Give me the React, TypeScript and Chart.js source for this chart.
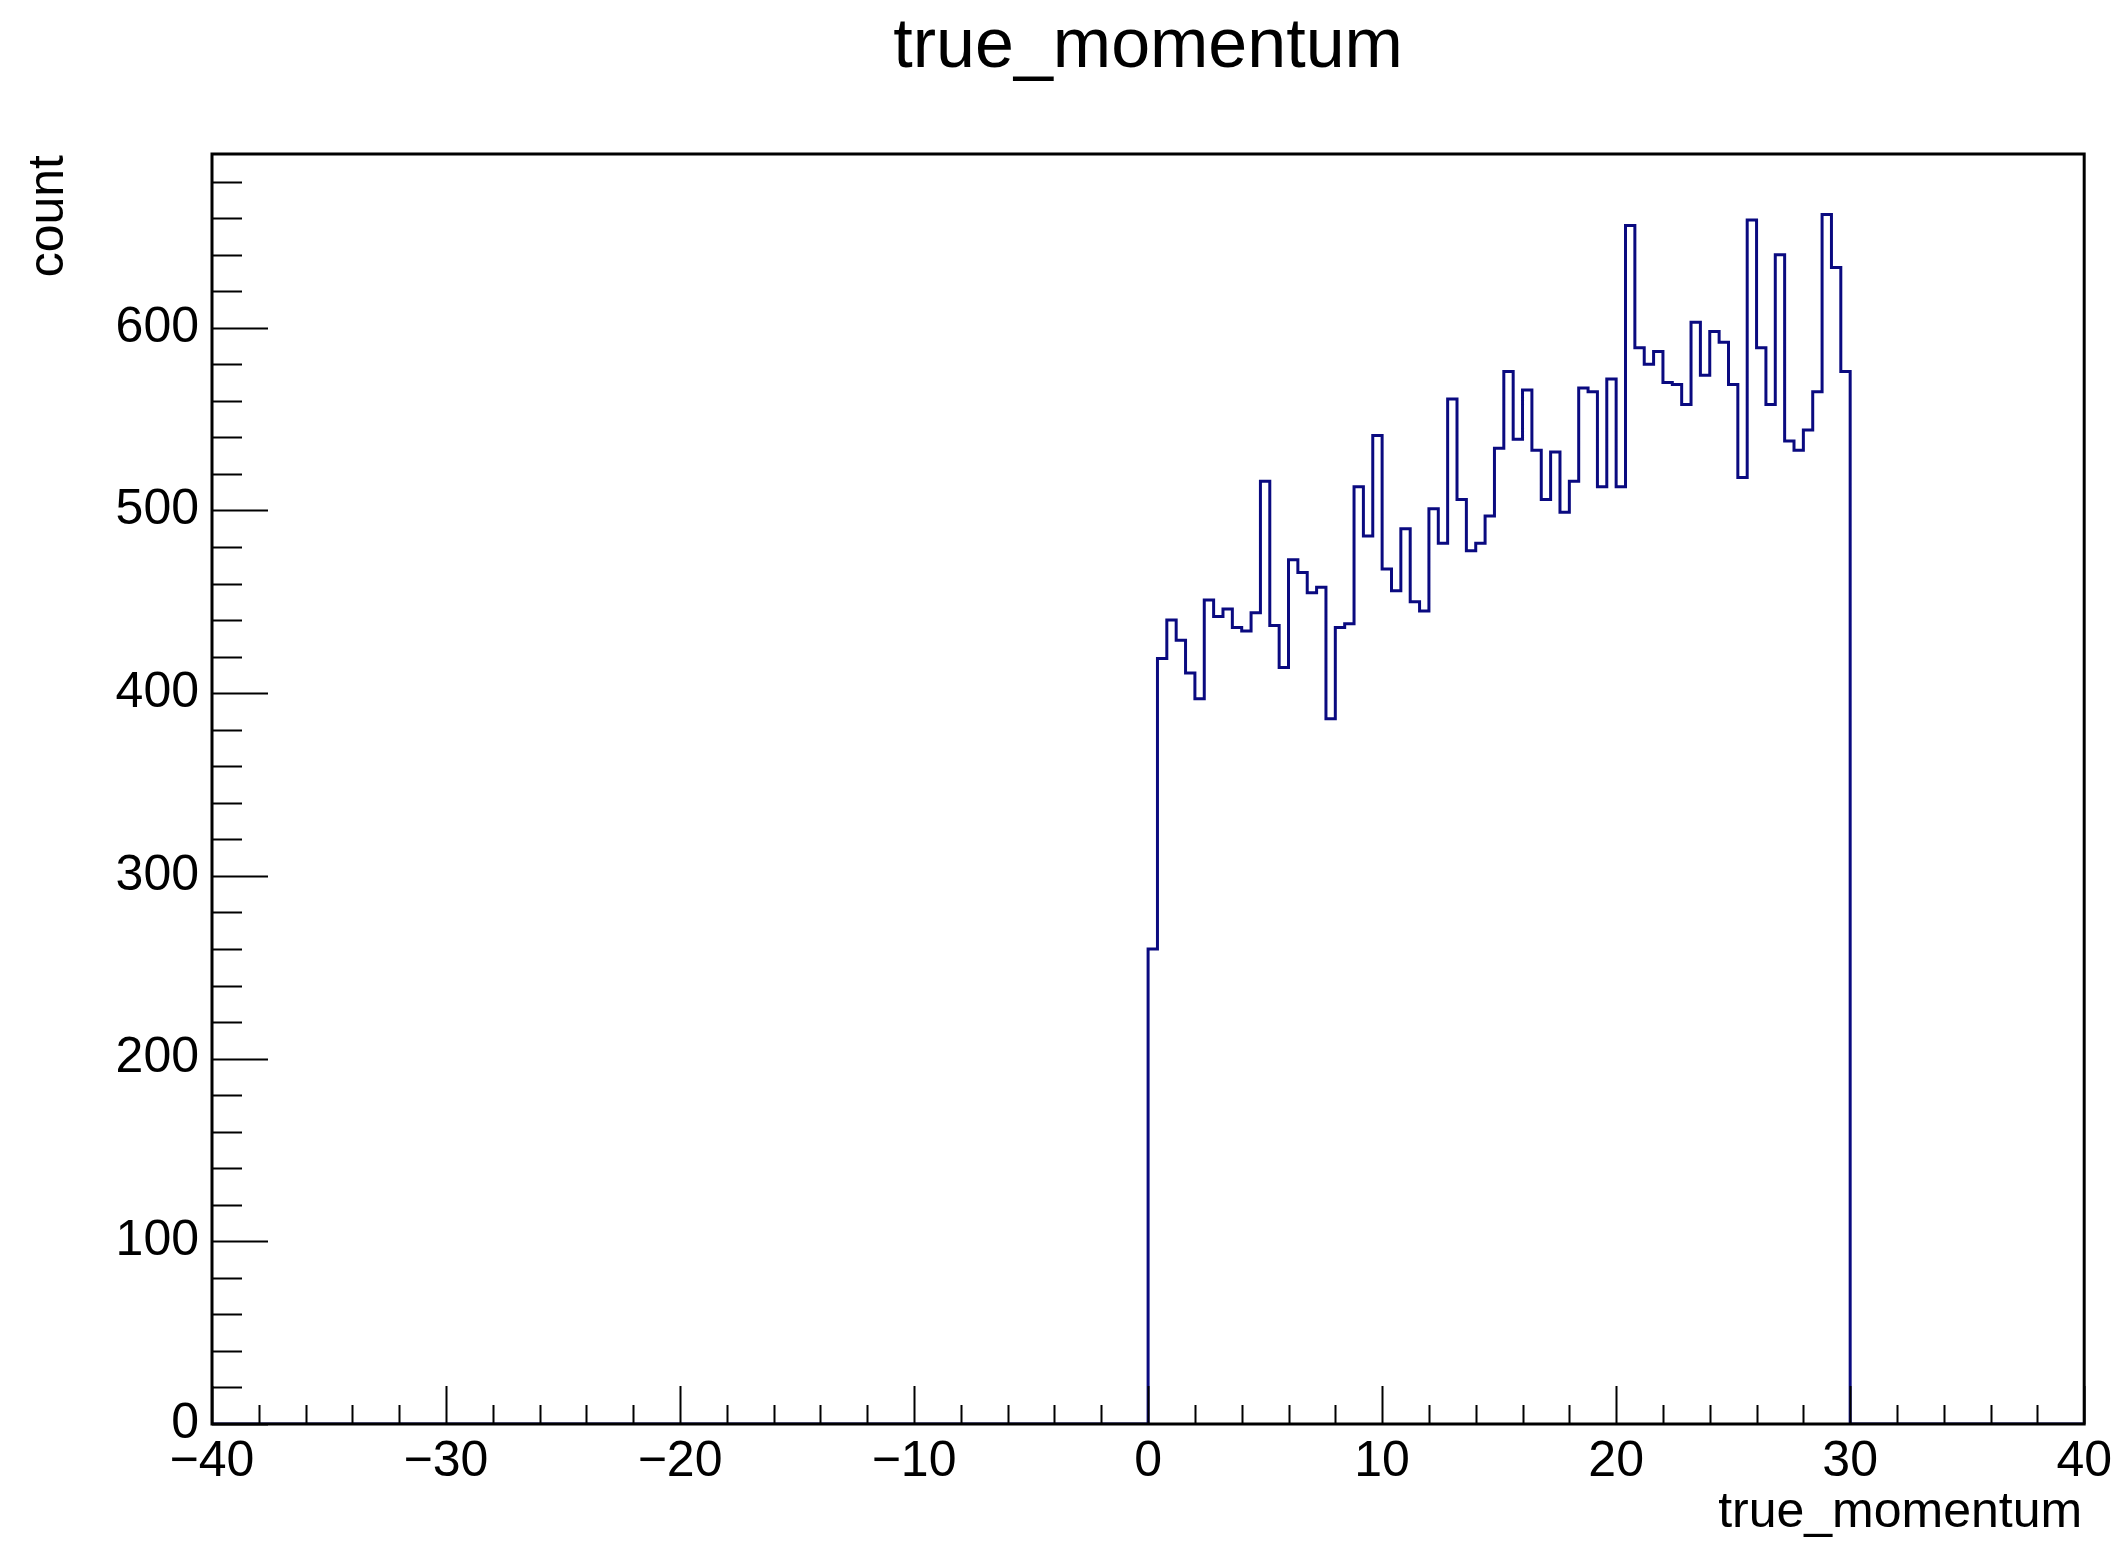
import React, { useEffect, useRef } from "react";
import { Chart, registerables } from "chart.js";

Chart.register(...registerables);

// ---- data ----
const chartTitle = "true_momentum";
const xAxisTitle = "true_momentum";
const yAxisTitle = "count";

const xMin = -40;
const xMax = 40;
const binWidth = 0.4;
const firstBinLow = 0; // first non-empty bin starts at 0
// counts of the non-empty bins, from x = 0 to x = 30 (bin width 0.4)
const counts = [
  260, 419, 440, 429, 411, 397, 451, 442, 446, 436,
  434, 444, 516, 437, 414, 473, 466, 455, 458, 386,
  436, 438, 513, 486, 541, 468, 456, 490, 450, 445,
  501, 482, 561, 506, 478, 482, 497, 534, 576, 539,
  566, 533, 506, 532, 499, 516, 567, 565, 513, 572,
  513, 656, 589, 580, 587, 570, 569, 558, 603, 574,
  598, 592, 569, 518, 659, 589, 558, 640, 538, 533,
  544, 565, 662, 633, 576,
];
const yMax = 695.1;
const xTickLabels = [-40, -30, -20, -10, 0, 10, 20, 30, 40];
const yTickLabels = [0, 100, 200, 300, 400, 500, 600];
const xMajorStep = 10;
const xMinorStep = 2;
const yMajorStep = 100;
const yMinorStep = 20;

const FONT = "'Liberation Sans', Arial, Helvetica, sans-serif";
const LINE_COLOR = "#0a0a80";

const framePlugin = {
  id: "rootFrame",
  afterDraw(chart: any) {
    const { ctx, chartArea, scales } = chart;
    const { left, right, top, bottom } = chartArea;
    const xs = scales.x;
    const ys = scales.y;
    ctx.save();
    // ticks
    ctx.strokeStyle = "#000";
    ctx.lineWidth = 2;
    ctx.beginPath();
    for (let v = 0; v <= yMax + 1e-9; v += yMinorStep) {
      const py = Math.round(ys.getPixelForValue(v)) + 0.5;
      const len = Math.abs(v % yMajorStep) < 1e-6 ? 56 : 30;
      ctx.moveTo(left, py);
      ctx.lineTo(left + len, py);
    }
    for (let v = xMin; v <= xMax + 1e-9; v += xMinorStep) {
      const px = Math.round(xs.getPixelForValue(v)) + 0.5;
      const len = Math.abs(v % xMajorStep) < 1e-6 ? 38 : 19;
      ctx.moveTo(px, bottom);
      ctx.lineTo(px, bottom - len);
    }
    ctx.stroke();
    // frame
    ctx.lineWidth = 3;
    ctx.strokeRect(left, top, right - left, bottom - top);

    // texts
    ctx.fillStyle = "#000";
    ctx.font = `70px ${FONT}`;
    ctx.textAlign = "center";
    ctx.textBaseline = "alphabetic";
    ctx.fillText(chartTitle, (left + right) / 2, 67);

    ctx.font = `50px ${FONT}`;
    ctx.textAlign = "right";
    ctx.fillText(xAxisTitle, right - 2, 1527);

    ctx.save();
    ctx.translate(63, top + 1);
    ctx.rotate(-Math.PI / 2);
    ctx.textAlign = "right";
    ctx.textBaseline = "alphabetic";
    ctx.fillText(yAxisTitle, 0, 0);
    ctx.restore();

    ctx.restore();
  },
};

const fmt = (v: any) => String(v).replace("-", "\u2212");

export default function App() {
  const ref = useRef<HTMLCanvasElement | null>(null);

  useEffect(() => {
    document.body.style.margin = "0";
    const canvas = ref.current;
    if (!canvas) return;

    const points: { x: number; y: number }[] = [{ x: xMin, y: 0 }];
    counts.forEach((c, i) => points.push({ x: firstBinLow + i * binWidth, y: c }));
    points.push({ x: firstBinLow + counts.length * binWidth, y: 0 });
    points.push({ x: xMax, y: 0 });

    const chart = new Chart(canvas, {
      type: "line",
      data: {
        datasets: [
          {
            data: points,
            stepped: "before",
            borderColor: LINE_COLOR,
            borderWidth: 3,
            pointRadius: 0,
            fill: false,
            tension: 0,
          },
        ],
      },
      options: {
        responsive: false,
        animation: false,
        devicePixelRatio: 1,
        layout: { padding: { top: 154, right: 35, bottom: 0, left: 0 } },
        plugins: {
          legend: { display: false },
          tooltip: { enabled: false },
          title: { display: false },
        },
        scales: {
          x: {
            type: "linear",
            min: xMin,
            max: xMax,
            grid: { display: false, drawTicks: false },
            border: { display: false },
            afterBuildTicks: (s: any) => {
              s.ticks = xTickLabels.map((v) => ({ value: v }));
            },
            ticks: {
              autoSkip: false,
              maxRotation: 0,
              color: "#000",
              padding: 8,
              font: { family: FONT, size: 50 },
              callback: fmt,
            },
            afterFit: (s: any) => {
              s.height = 122;
            },
          },
          y: {
            type: "linear",
            min: 0,
            max: yMax,
            grid: { display: false, drawTicks: false },
            border: { display: false },
            afterBuildTicks: (s: any) => {
              s.ticks = yTickLabels.map((v) => ({ value: v }));
            },
            ticks: {
              autoSkip: false,
              color: "#000",
              padding: 13,
              font: { family: FONT, size: 50 },
              callback: fmt,
            },
            afterFit: (s: any) => {
              s.width = 212;
            },
          },
        },
      },
      plugins: [framePlugin],
    });
    return () => chart.destroy();
  }, []);

  return (
    <div style={{ position: "absolute", left: 0, top: 0, width: 2120, height: 1546, background: "#fff" }}>
      <canvas ref={ref} width={2120} height={1546} style={{ width: 2120, height: 1546, display: "block" }} />
    </div>
  );
}
